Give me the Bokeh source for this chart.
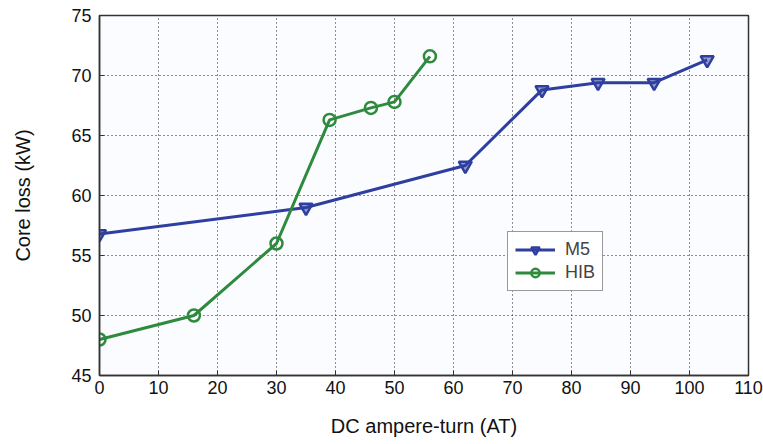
from bokeh.plotting import figure
from bokeh.models import Range1d, FixedTicker, Legend, LegendItem
from bokeh.embed import file_html
from bokeh.resources import INLINE

m5_x = [0, 35, 62, 75, 84.5, 94, 103]
m5_y = [56.8, 59.0, 62.5, 68.8, 69.4, 69.4, 71.3]
hib_x = [0, 16, 30, 39, 46, 50, 56]
hib_y = [48.0, 50.0, 56.0, 66.3, 67.3, 67.8, 71.6]
x_ticks = [0, 10, 20, 30, 40, 50, 60, 70, 80, 90, 100, 110]
y_ticks = [45, 50, 55, 60, 65, 70, 75]

BLUE = "#2f3f9f"
GREEN = "#2e8a3c"
FONT = "Liberation Sans"

p = figure(width=763, height=444, output_backend="svg", toolbar_location=None,
           x_range=Range1d(0, 110), y_range=Range1d(45, 75),
           min_border_left=99, min_border_right=15, min_border_top=15, min_border_bottom=69)
p.background_fill_color = "#fbfcff"
p.border_fill_color = "white"
p.outline_line_color = "#333333"
p.outline_line_width = 1.5

for ax in (p.xaxis[0], p.yaxis[0]):
    ax.major_label_text_font = FONT
    ax.major_label_text_font_size = "18px"
    ax.major_label_text_color = "#111111"
    ax.axis_label_text_font = FONT
    ax.axis_label_text_font_size = "20px"
    ax.axis_label_text_font_style = "normal"
    ax.axis_label_text_color = "#111111"
    ax.axis_line_color = "#333333"
    ax.axis_line_width = 1.5
    ax.major_tick_line_color = "#333333"
    ax.major_tick_in = 5
    ax.major_tick_out = 0
    ax.minor_tick_line_color = None

p.xaxis.ticker = FixedTicker(ticks=x_ticks)
p.yaxis.ticker = FixedTicker(ticks=y_ticks)
p.xaxis.axis_label = "DC ampere-turn (AT)"
p.yaxis.axis_label = "Core loss (kW)"
p.xaxis.major_label_standoff = 5
p.yaxis.major_label_standoff = 8
p.xaxis.axis_label_standoff = 18
p.yaxis.axis_label_standoff = 34

for g in (p.xgrid[0], p.ygrid[0]):
    g.grid_line_color = "#222222"
    g.grid_line_dash = "1 3"
    g.grid_line_width = 1

l1 = p.line(m5_x, m5_y, line_color=BLUE, line_width=3)
s1 = p.scatter(m5_x, m5_y, marker="inverted_triangle", size=13, line_color=BLUE,
               line_width=2.5, fill_color=BLUE, fill_alpha=0.5)
l2 = p.line(hib_x, hib_y, line_color=GREEN, line_width=3)
s2 = p.scatter(hib_x, hib_y, marker="circle", size=12, line_color=GREEN,
               line_width=2.5, fill_color=None)

legend = Legend(items=[LegendItem(label="M5", renderers=[l1, s1]),
                       LegendItem(label="HIB", renderers=[l2, s2])],
                location=(408, 84))
legend.label_text_font = FONT
legend.label_text_font_size = "18px"
legend.border_line_color = "#333333"
legend.border_line_width = 1.5
legend.background_fill_color = "white"
legend.glyph_width = 40
legend.glyph_height = 21
legend.label_height = 21
legend.label_standoff = 10
legend.spacing = 2
legend.padding = 7
legend.margin = 0
p.add_layout(legend, "center")

open("out.html", "w").write(file_html(p, INLINE))
